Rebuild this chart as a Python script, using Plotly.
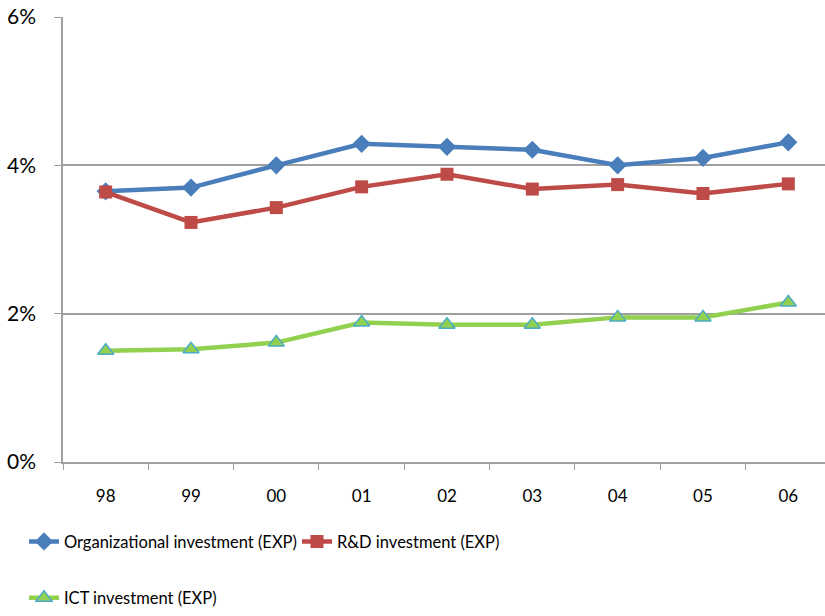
import plotly.graph_objects as go

# Years and investment shares (% of value added)
years = ["98", "99", "00", "01", "02", "03", "04", "05", "06"]
org_invest = [3.65, 3.70, 4.00, 4.29, 4.25, 4.21, 4.00, 4.10, 4.31]
rd_invest = [3.64, 3.23, 3.43, 3.71, 3.88, 3.68, 3.74, 3.62, 3.75]
ict_invest = [1.50, 1.52, 1.61, 1.88, 1.85, 1.85, 1.95, 1.95, 2.15]

y_ticks = [0, 2, 4, 6]
y_tick_labels = ["0%", "2%", "4%", "6%"]

FONT = "Lato, sans-serif"
GRID = "#A0A0A0"
PLOT_W = 762
PLOT_H = 445

fig = go.Figure()
fig.add_trace(go.Scatter(
    x=years, y=org_invest, mode="lines+markers",
    name="Organizational investment (EXP)",
    line=dict(color="#4A7EBB", width=4.5),
    marker=dict(symbol="diamond", size=14, color="#4A7EBB"),
    legend="legend",
))
fig.add_trace(go.Scatter(
    x=years, y=rd_invest, mode="lines+markers",
    name="R&D investment (EXP)",
    line=dict(color="#BE4B48", width=4.5),
    marker=dict(symbol="square", size=13, color="#BE4B48"),
    legend="legend",
))
fig.add_trace(go.Scatter(
    x=years, y=ict_invest, mode="lines+markers",
    name="ICT investment (EXP)",
    line=dict(color="#92D050", width=4.5),
    marker=dict(symbol="triangle-up", size=14, color="#92D050",
                line=dict(color="#4BACC6", width=1.5)),
    legend="legend2",
))

fig.update_layout(
    width=825, height=616,
    margin=dict(l=63, r=0, t=17, b=154),
    plot_bgcolor="white", paper_bgcolor="white",
    font=dict(family=FONT, color="black"),
    xaxis=dict(
        type="category", range=[-0.5, 8.43],
        showgrid=False, showline=True, linecolor=GRID, linewidth=1.5,
        ticks="outside", tickson="boundaries", ticklen=6, tickcolor=GRID,
        tickfont=dict(size=17), ticklabelstandoff=18,
    ),
    yaxis=dict(
        range=[0, 6], tickvals=y_ticks, ticktext=y_tick_labels,
        showgrid=True, gridcolor=GRID, gridwidth=1.5,
        showline=True, linecolor=GRID, linewidth=1.5,
        ticks="outside", ticklen=7, tickcolor=GRID,
        tickfont=dict(size=21), ticklabelstandoff=14,
        zeroline=False,
    ),
    legend=dict(
        orientation="h", x=(24 - 63) / PLOT_W, xanchor="left",
        y=-(541.7 - 462) / PLOT_H, yanchor="middle",
        font=dict(size=16.5), entrywidth=228, itemwidth=30,
        bgcolor="rgba(0,0,0,0)",
    ),
    legend2=dict(
        orientation="h", x=(24 - 63) / PLOT_W, xanchor="left",
        y=-(598 - 462) / PLOT_H, yanchor="middle",
        font=dict(size=16.5), itemwidth=30,
        bgcolor="rgba(0,0,0,0)",
    ),
)

fig.write_html("out.html")
